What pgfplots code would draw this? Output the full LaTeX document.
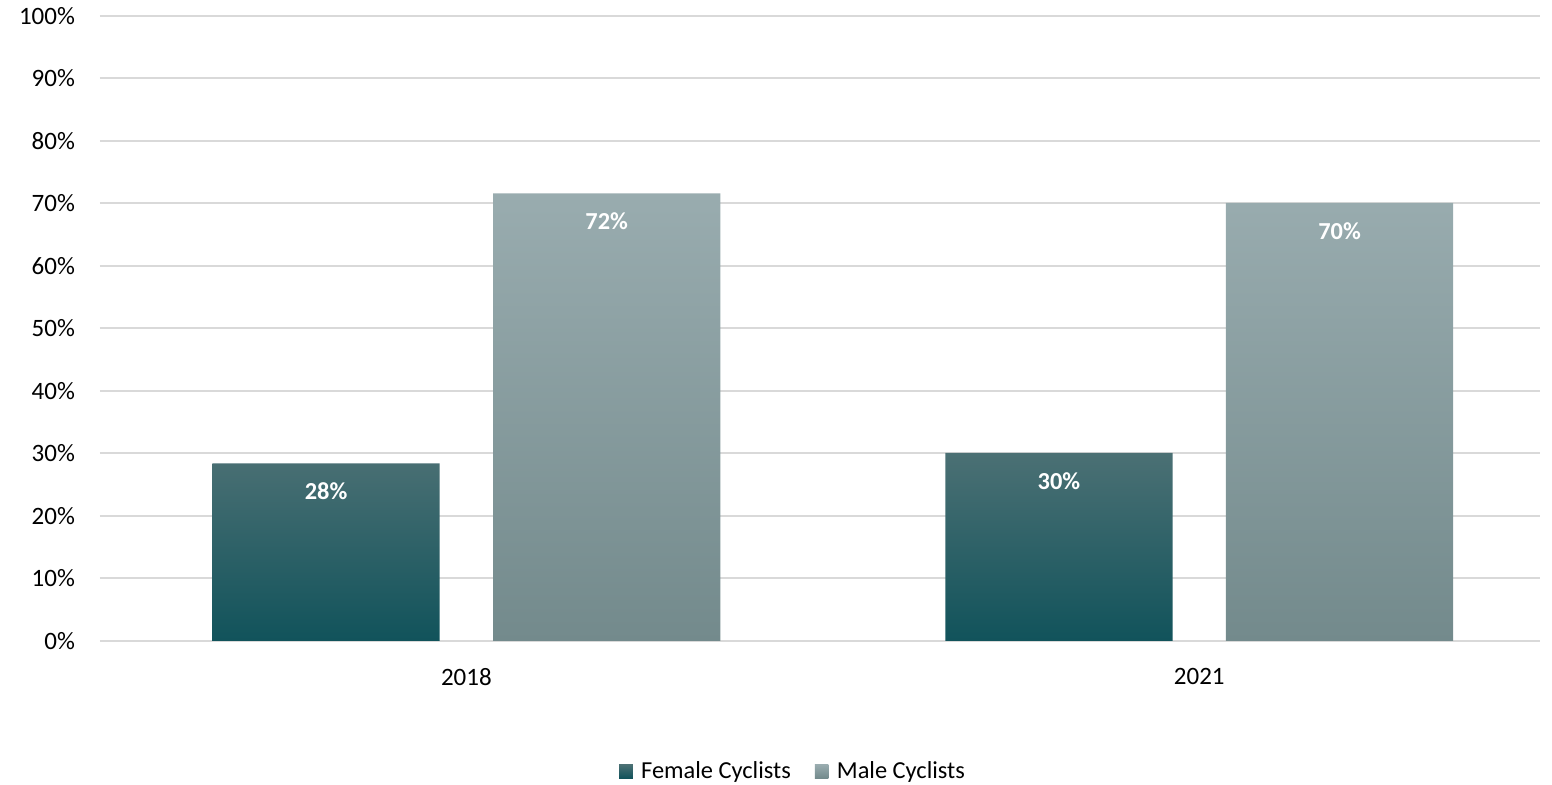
\documentclass[border=0pt]{standalone}
\usepackage{fontspec}
\setmainfont{Carlito}
\usepackage{pgfplots}
\pgfplotsset{compat=1.18}
\definecolor{femtop}{HTML}{4B7074}
\definecolor{femmid}{HTML}{185961}
\definecolor{fembot}{HTML}{11535B}
\definecolor{maletop}{HTML}{99ACAF}
\definecolor{malebot}{HTML}{738A8C}
\definecolor{gridc}{HTML}{D9D9D9}
\begin{document}
\begin{tikzpicture}
\begin{axis}[
  scale only axis,
  width=720pt, height=312.5pt,
  xmin=-0.5, xmax=1.465,
  ymin=0, ymax=100,
  xtick={0,1}, xticklabels={2018,2021},
  ytick={0,10,...,100},
  yticklabel={\pgfmathprintnumber{\tick}\%},
  /pgf/number format/assume math mode=true,
  ymajorgrids, grid style={gridc, line width=1pt},
  axis line style={draw=none},
  major tick length=0pt,
  tick label style={font=\fontsize{12.5pt}{14pt}\selectfont, text=black},
  yticklabel style={xshift=-9pt},
  xticklabel style={yshift=-10pt},
  bar width=0.31,
  legend style={at={(0.482,-0.2085)}, anchor=center, draw=none, legend columns=2,
    font=\fontsize{12.2pt}{14pt}\selectfont, /tikz/every even column/.append style={column sep=10pt}},
  legend image code/.code={\fill[#1] (0pt,-3.4pt) rectangle (6.8pt,3.4pt); \path (9pt,0pt);},
  clip=false,
]
\addplot[ybar, bar shift=-0.1915, draw=none, top color=femtop, middle color=femmid, bottom color=fembot] coordinates {(0,28.4) (1,30.1)};
\addlegendentry{Female Cyclists}
\addplot[ybar, bar shift=0.1915, draw=none, top color=maletop, bottom color=malebot] coordinates {(0,71.6) (1,70.1)};
\addlegendentry{Male Cyclists}
\addplot[only marks, mark=none, forget plot, nodes near coords={\pgfmathprintnumber[fixed,precision=0]{\pgfplotspointmeta}\%},
  every node near coord/.style={font=\fontsize{12.2pt}{14pt}\selectfont\bfseries, text=white, anchor=center, yshift=-14pt}]
  coordinates {(-0.1915,28.4) (0.8085,30.1) (0.1915,71.6) (1.1915,70.1)};
\coordinate (sw) at (rel axis cs:0,0);
\end{axis}
\pgfresetboundingbox
\useasboundingbox ([shift={(-50pt,-72pt)}]sw) rectangle ([shift={(726pt,320.5pt)}]sw);
\end{tikzpicture}
\end{document}
